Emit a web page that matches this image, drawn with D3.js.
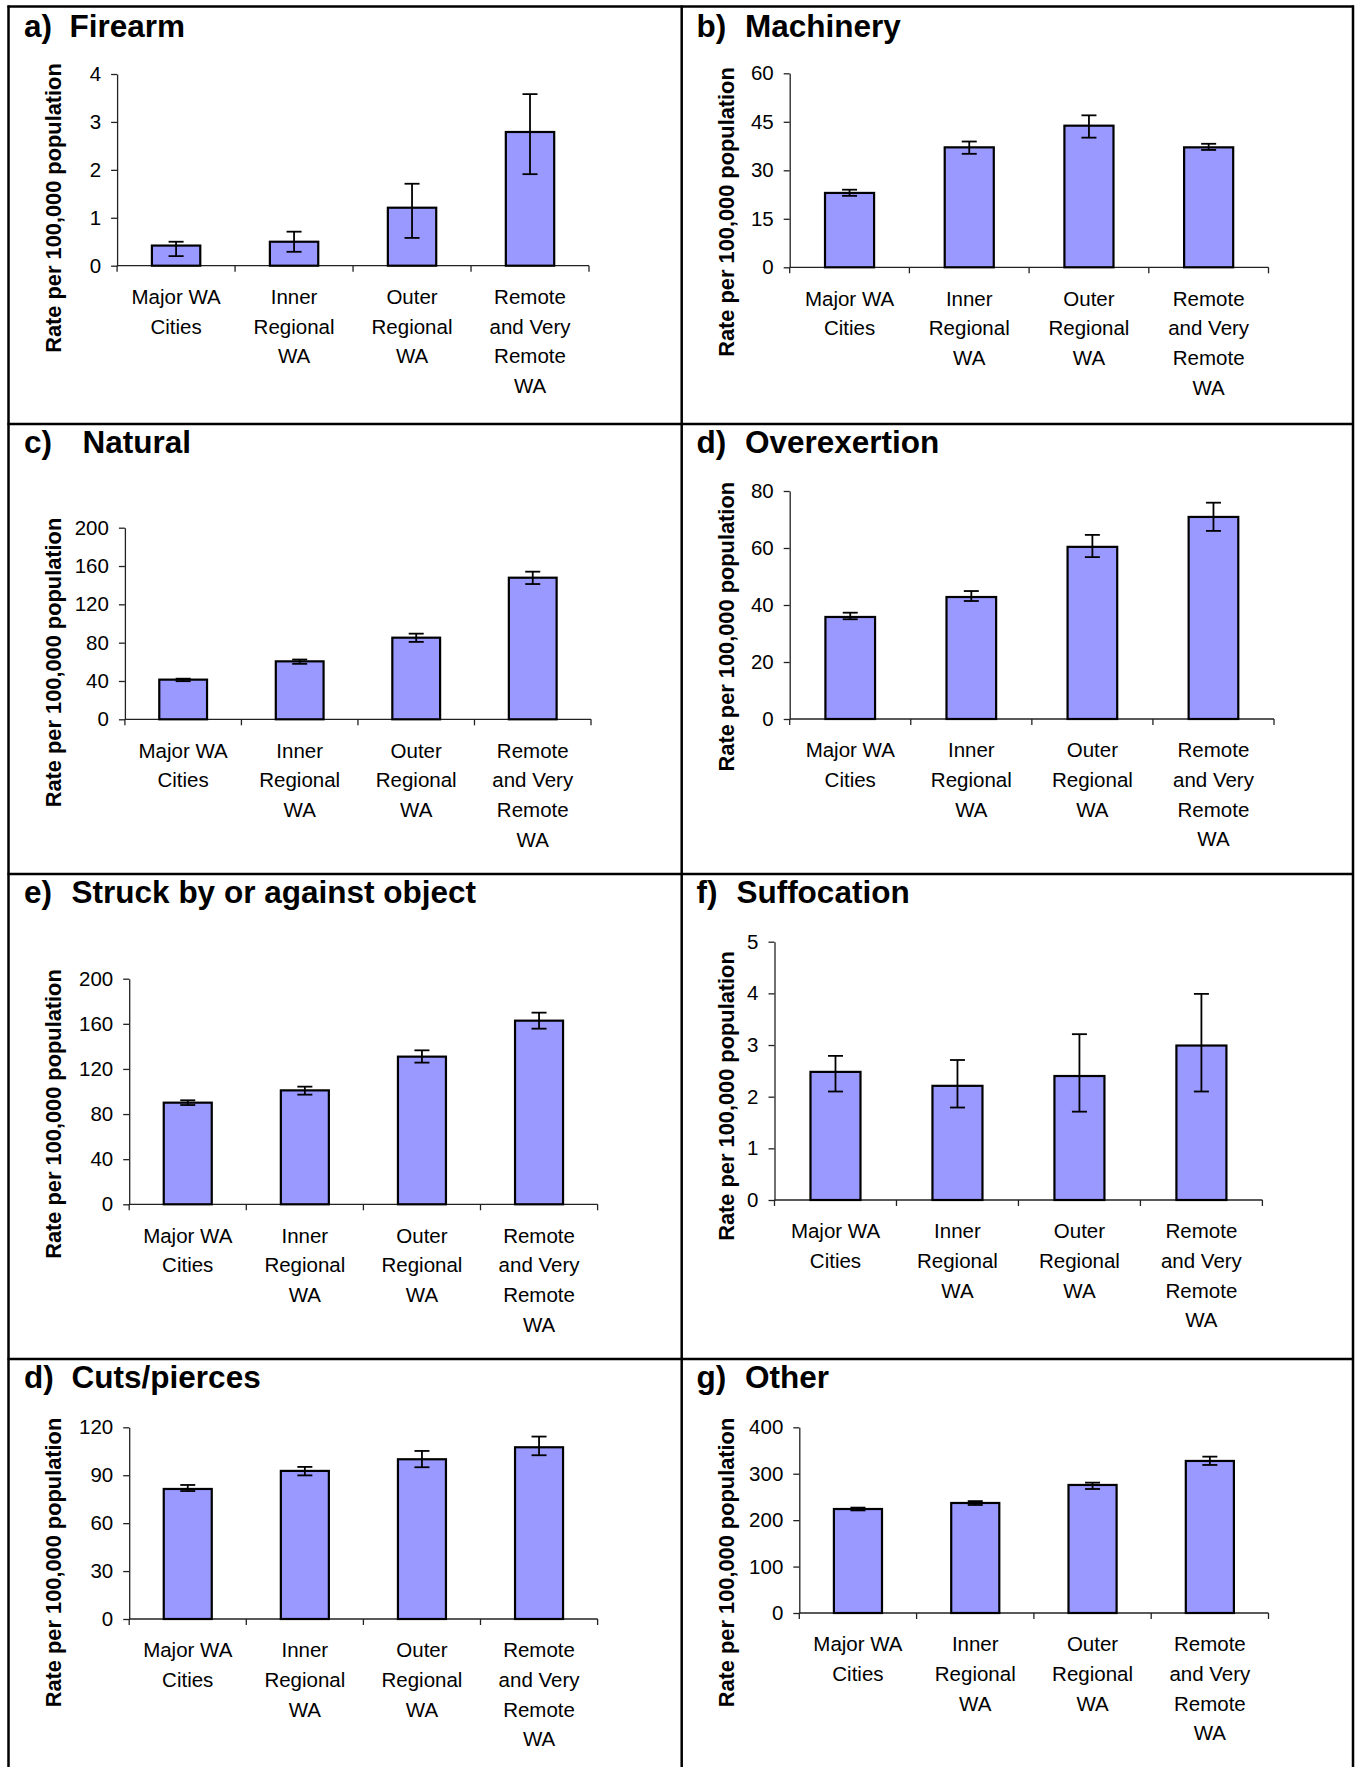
<!DOCTYPE html>
<html>
<head>
<meta charset="utf-8">
<script src="https://cdn.jsdelivr.net/npm/d3@7"></script>
<style>
  html, body { margin: 0; padding: 0; background: #fff; }
  svg { display: block; }
  text { font-family: "Liberation Sans", Arial, sans-serif; fill: #000; }
</style>
</head>
<body>
<svg id="chart" width="1359" height="1767"></svg>
<script>
// ---------------- DATA ----------------
const categories = [
  ["Major WA", "Cities"],
  ["Inner", "Regional", "WA"],
  ["Outer", "Regional", "WA"],
  ["Remote", "and Very", "Remote", "WA"]
];
const panelLetters = ["a)", "b)", "c)", "d)", "e)", "f)", "d)", "g)"];
const panelNames = ["Firearm", "Machinery", "Natural", "Overexertion",
  "Struck by or against object", "Suffocation", "Cuts/pierces", "Other"];
const yAxisTitle = "Rate per 100,000 population";

const firearmRate  = [0.42, 0.50, 1.21, 2.79];
const firearmLow   = [0.20, 0.29, 0.58, 1.91];
const firearmHigh  = [0.50, 0.71, 1.71, 3.58];
const firearmTicks = [0, 1, 2, 3, 4];

const machineryRate  = [23.0, 37.1, 43.8, 37.1];
const machineryLow   = [22.1, 35.1, 40.1, 36.3];
const machineryHigh  = [24.0, 38.9, 47.0, 38.2];
const machineryTicks = [0, 15, 30, 45, 60];

const naturalRate  = [41.4, 60.5, 85.2, 147.8];
const naturalLow   = [39.8, 57.9, 80.8, 141.2];
const naturalHigh  = [42.4, 62.4, 89.4, 154.1];
const naturalTicks = [0, 40, 80, 120, 160, 200];

const overexertionRate  = [35.8, 42.8, 60.4, 70.9];
const overexertionLow   = [35.0, 41.4, 56.8, 66.0];
const overexertionHigh  = [37.3, 44.9, 64.6, 75.9];
const overexertionTicks = [0, 20, 40, 60, 80];

const struckRate  = [90.1, 101.0, 130.9, 162.8];
const struckLow   = [88.0, 97.2, 125.6, 155.7];
const struckHigh  = [92.2, 104.3, 136.5, 169.9];
const struckTicks = [0, 40, 80, 120, 160, 200];

const suffocationRate  = [2.48, 2.21, 2.40, 2.99];
const suffocationLow   = [2.10, 1.79, 1.71, 2.10];
const suffocationHigh  = [2.79, 2.71, 3.21, 3.99];
const suffocationTicks = [0, 1, 2, 3, 4, 5];

const cutsRate  = [81.4, 92.7, 100.0, 107.5];
const cutsLow   = [80.1, 89.9, 95.0, 102.5];
const cutsHigh  = [83.9, 95.2, 105.2, 114.2];
const cutsTicks = [0, 30, 60, 90, 120];

const otherRate  = [224, 237, 275.8, 327.5];
const otherLow   = [221, 232.7, 267.1, 318.9];
const otherHigh  = [227, 241, 280.8, 336.8];
const otherTicks = [0, 100, 200, 300, 400];

// ---------------- LAYOUT (positions only) ----------------
const series = [
  [firearmRate, firearmLow, firearmHigh, firearmTicks],
  [machineryRate, machineryLow, machineryHigh, machineryTicks],
  [naturalRate, naturalLow, naturalHigh, naturalTicks],
  [overexertionRate, overexertionLow, overexertionHigh, overexertionTicks],
  [struckRate, struckLow, struckHigh, struckTicks],
  [suffocationRate, suffocationLow, suffocationHigh, suffocationTicks],
  [cutsRate, cutsLow, cutsHigh, cutsTicks],
  [otherRate, otherLow, otherHigh, otherTicks]
];
const layout = [
  {x0: 117.1, x1: 589,    yTop: 74,     yZero: 265.7, lx: 24,    nx: 69.4,  ty: 36.7,   ylx: 60.7,  yly: 208},
  {x0: 789.7, x1: 1268.5, yTop: 73.3,   yZero: 267.3, lx: 696.5, nx: 745,   ty: 36.7,   ylx: 734.2, yly: 212},
  {x0: 124.9, x1: 591,    yTop: 527.7,  yZero: 719.3, lx: 24,    nx: 82.4,  ty: 453.3,  ylx: 60.7,  yly: 662.5},
  {x0: 789.7, x1: 1274,   yTop: 491,    yZero: 719,   lx: 696.5, nx: 745,   ty: 453.3,  ylx: 734.2, yly: 626.7},
  {x0: 129.2, x1: 597.6,  yTop: 978.7,  yZero: 1204.3,lx: 24,    nx: 71.6,  ty: 903.3,  ylx: 60.7,  yly: 1114},
  {x0: 774.5, x1: 1262.4, yTop: 941.7,  yZero: 1200,  lx: 696.5, nx: 736.4, ty: 903.3,  ylx: 734.2, yly: 1096},
  {x0: 129.2, x1: 597.6,  yTop: 1427.3, yZero: 1619,  lx: 24,    nx: 71.6,  ty: 1388.3, ylx: 60.7,  yly: 1562.5},
  {x0: 799.3, x1: 1268.5, yTop: 1427.3, yZero: 1613,  lx: 696.5, nx: 745,   ty: 1388.3, ylx: 734.2, yly: 1562.5}
];

const svg = d3.select("#chart");

// panel frame lines
const frame = svg.append("g").attr("stroke", "#000").attr("stroke-width", 2.5);
[8.5, 681.7, 1353].forEach(x => frame.append("line").attr("x1", x).attr("x2", x).attr("y1", 5.5).attr("y2", 1767));
[6.5, 424, 874, 1359].forEach(y => frame.append("line").attr("x1", 7.5).attr("x2", 1354).attr("y1", y).attr("y2", y));

series.forEach((s, i) => {
  const [rate, low, high, ticks] = s;
  const L = layout[i];
  const g = svg.append("g");

  const x = d3.scaleBand().domain(d3.range(categories.length))
    .range([L.x0, L.x1]).paddingInner(0.59).paddingOuter(0.295);
  const y = d3.scaleLinear().domain([0, d3.max(ticks)]).range([L.yZero, L.yTop]);

  // title
  g.append("text").attr("x", L.lx).attr("y", L.ty)
    .attr("font-size", 31.5).attr("font-weight", "bold").text(panelLetters[i]);
  g.append("text").attr("x", L.nx).attr("y", L.ty)
    .attr("font-size", 31.5).attr("font-weight", "bold").text(panelNames[i]);

  // y-axis title
  g.append("text")
    .attr("transform", `translate(${L.ylx},${L.yly}) rotate(-90)`)
    .attr("text-anchor", "middle").attr("font-size", 21.8).attr("font-weight", "bold")
    .text(yAxisTitle);

  // y axis
  const yAxis = g.append("g").attr("transform", `translate(${L.x0},0)`)
    .call(d3.axisLeft(y).tickValues(ticks).tickFormat(d3.format("d"))
      .tickSize(6).tickPadding(10).tickSizeOuter(0));
  yAxis.select(".domain").attr("stroke", "#222").attr("stroke-width", 1.3);
  yAxis.selectAll(".tick line").attr("stroke", "#222").attr("stroke-width", 1.3);
  yAxis.selectAll(".tick text").attr("font-size", 20.5)
    .attr("font-family", '"Liberation Sans", Arial, sans-serif').attr("fill", "#000");

  // x axis line and boundary ticks
  g.append("line").attr("x1", L.x0).attr("x2", L.x1).attr("y1", L.yZero).attr("y2", L.yZero)
    .attr("stroke", "#222").attr("stroke-width", 1.3);
  const step = x.step();
  d3.range(categories.length + 1).forEach(k => {
    const xb = x(0) - x.step() * x.paddingOuter() + k * step;
    g.append("line").attr("x1", xb).attr("x2", xb).attr("y1", L.yZero).attr("y2", L.yZero + 6)
      .attr("stroke", "#222").attr("stroke-width", 1.3);
  });

  // bars
  g.selectAll("rect.bar").data(rate).join("rect")
    .attr("class", "bar")
    .attr("x", (d, k) => x(k)).attr("width", x.bandwidth())
    .attr("y", d => y(d)).attr("height", d => y(0) - y(d))
    .attr("fill", "#9999ff").attr("stroke", "#000").attr("stroke-width", 2.2);

  // error bars
  const eb = g.append("g").attr("stroke", "#000").attr("stroke-width", 1.8);
  rate.forEach((d, k) => {
    const cx = x(k) + x.bandwidth() / 2;
    eb.append("line").attr("x1", cx).attr("x2", cx).attr("y1", y(low[k])).attr("y2", y(high[k]));
    [low[k], high[k]].forEach(v => {
      eb.append("line").attr("x1", cx - 7.5).attr("x2", cx + 7.5).attr("y1", y(v)).attr("y2", y(v));
    });
  });

  // category labels
  categories.forEach((lines, k) => {
    const cx = x(k) + x.bandwidth() / 2;
    const t = g.append("text").attr("text-anchor", "middle").attr("font-size", 20.5);
    lines.forEach((ln, j) => {
      t.append("tspan").attr("x", cx).attr("y", L.yZero + 38.3 + j * 29.7).text(ln);
    });
  });
});
</script>
</body>
</html>
